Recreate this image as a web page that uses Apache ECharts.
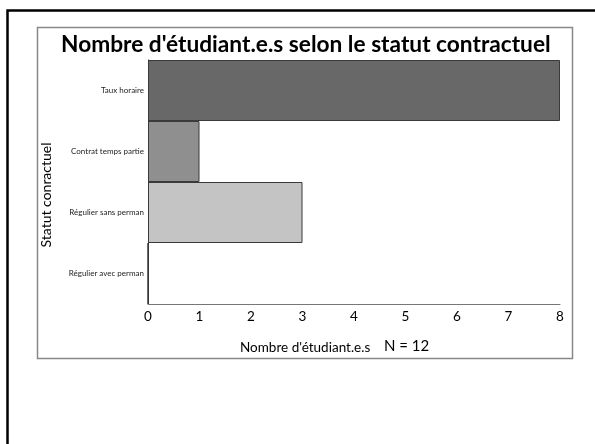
<!DOCTYPE html>
<html><head><meta charset="utf-8">
<script src="https://cdn.jsdelivr.net/npm/echarts@6/dist/echarts.min.js"></script>
<style>html,body{margin:0;padding:0;background:#fff;}#c{width:595px;height:444px;}</style>
</head><body><div id="c"></div>
<script>
const categories = ["Régulier avec perman", "Régulier sans perman", "Contrat temps partie", "Taux horaire"];
const values = [0, 3, 1, 8];
const barColors = ["#ffffff", "#c4c4c4", "#8f8f8f", "#686868"];
const xTicks = [0, 1, 2, 3, 4, 5, 6, 7, 8];
const titleText = "Nombre d'étudiant.e.s selon le statut contractuel";
const xName = "Nombre d'étudiant.e.s";
const nText = "N = 12";
const yName = "Statut conractuel";

const chart = echarts.init(document.getElementById('c'), null, {renderer: 'canvas'});
const font = 'Lato';
chart.setOption({
  animation: false,
  backgroundColor: '#fff',
  title: {
    text: titleText, left: 56, top: 28,
    textStyle: {fontFamily: font, fontWeight: 'bold', fontSize: 22.7, color: '#000'}
  },
  grid: {left: 148, right: 35, top: 60, bottom: 140, containLabel: false},
  xAxis: {
    type: 'value', min: 0, max: 8, interval: 1,
    axisLine: {show: true, lineStyle: {color: '#777', width: 1}},
    axisTick: {show: false},
    splitLine: {show: false},
    axisLabel: {fontFamily: font, fontSize: 13.5, color: '#000', margin: 6,
      formatter: v => xTicks.includes(v) ? String(v) : ''}
  },
  yAxis: {
    type: 'category', data: categories,
    axisLine: {show: true, lineStyle: {color: '#222', width: 1}},
    axisTick: {show: false},
    axisLabel: {fontFamily: font, fontSize: 8, color: '#222', margin: 4}
  },
  series: [{
    type: 'bar',
    data: values.map((v, i) => ({value: v, itemStyle: {color: barColors[i]}})),
    barCategoryGap: '0%',
    itemStyle: {borderColor: '#3a3a3a', borderWidth: 1}
  }],
  graphic: [
    {type: 'rect', shape: {x: 7.5, y: 10.5, width: 700, height: 600}, style: {fill: 'none', stroke: '#000', lineWidth: 2.5}, silent: true},
    {type: 'rect', shape: {x: 37.5, y: 27.5, width: 535, height: 331}, style: {fill: 'none', stroke: '#888', lineWidth: 1.5}, silent: true},
    {type: 'text', x: 46, y: 195, rotation: Math.PI / 2,
      style: {text: yName, fontFamily: font, fontSize: 14, fill: '#000', align: 'center', verticalAlign: 'middle'}},
    {type: 'text', left: 240, top: 341, style: {text: xName, fontFamily: font, fontSize: 13.5, fill: '#000'}},
    {type: 'text', left: 384, top: 339, style: {text: nText, fontFamily: font, fontSize: 15, fill: '#000'}}
  ]
});
</script></body></html>
